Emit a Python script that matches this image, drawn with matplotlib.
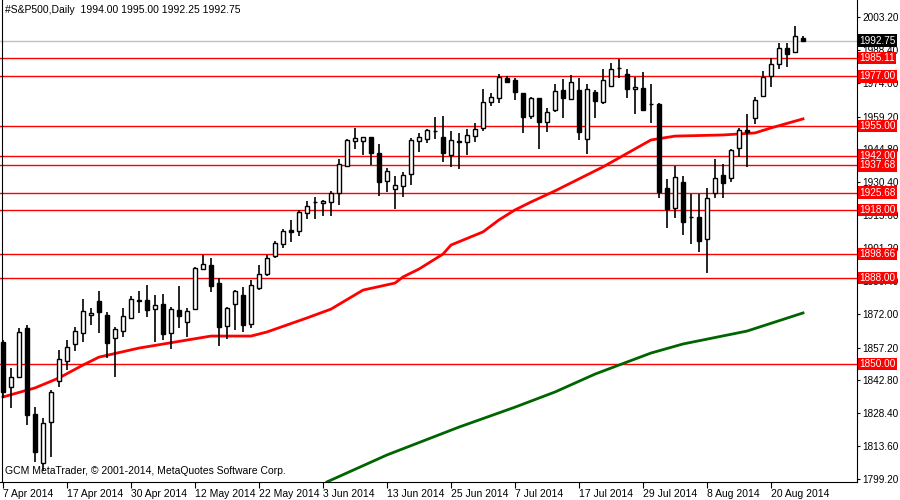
import matplotlib.pyplot as plt

# daily OHLC (bar index 0 = first visible bar)
opens = [1859.7, 1839.8, 1844.2, 1865.9, 1827.9, 1806.2, 1824.3, 1842.4, 1851.3, 1858.8,
         1863.6, 1871.6, 1877.8, 1871.6, 1861.4, 1864.5, 1870.3, 1877.8, 1878.2, 1874.2,
         1876.5, 1863.6, 1873.8, 1868.5, 1874.2, 1891.9, 1893.7, 1885.7, 1866.7, 1876.5,
         1880.4, 1867.6, 1883.5, 1889.7, 1897.7, 1903.0, 1909.1, 1908.7, 1916.6, 1921.5,
         1921.1, 1921.5, 1925.5, 1937.4, 1948.4, 1948.4, 1950.2, 1943.1, 1930.8, 1927.2,
         1928.6, 1933.9, 1948.4, 1949.3, 1952.9, 1950.2, 1942.3, 1948.0, 1948.0, 1950.6,
         1954.2, 1965.7, 1967.4, 1976.3, 1975.4, 1969.6, 1959.5, 1967.4, 1956.8, 1962.1,
         1971.0, 1967.0, 1971.0, 1949.3, 1970.1, 1965.7, 1972.7, 1980.7, 1978.0, 1971.4,
         1971.8, 1964.8, 1964.8, 1927.7, 1918.9, 1930.3, 1914.9, 1914.9, 1905.2, 1925.5,
         1933.4, 1932.1, 1945.3, 1953.3, 1958.6, 1968.3, 1977.1, 1982.4, 1989.5, 1987.8,
         1994.0]
highs = [1860.6, 1848.2, 1865.9, 1867.2, 1831.0, 1826.1, 1838.5, 1856.1, 1860.6, 1866.3,
         1878.7, 1874.7, 1882.2, 1872.9, 1866.3, 1874.7, 1880.0, 1882.2, 1884.8, 1880.4,
         1880.9, 1875.1, 1884.4, 1874.7, 1892.8, 1898.1, 1896.8, 1888.0, 1875.1, 1882.6,
         1884.0, 1887.0, 1893.7, 1898.1, 1904.3, 1909.6, 1913.6, 1918.0, 1921.9, 1923.7,
         1922.4, 1926.4, 1940.5, 1949.3, 1954.2, 1950.2, 1950.2, 1947.1, 1936.5, 1933.0,
         1934.7, 1949.8, 1952.0, 1953.7, 1959.0, 1959.5, 1952.9, 1952.0, 1953.7, 1956.4,
         1971.4, 1969.6, 1978.0, 1977.2, 1976.3, 1969.6, 1967.9, 1967.4, 1963.0, 1973.6,
         1975.8, 1977.6, 1976.3, 1973.6, 1971.0, 1980.2, 1982.9, 1984.6, 1980.2, 1976.7,
         1978.9, 1973.6, 1965.2, 1931.7, 1937.4, 1933.0, 1925.0, 1925.0, 1927.7, 1940.5,
         1938.3, 1944.9, 1954.2, 1960.4, 1967.9, 1979.3, 1985.1, 1991.7, 1991.7, 1999.2,
         1995.0]
lows = [1834.9, 1830.5, 1843.8, 1823.0, 1806.7, 1802.7, 1808.9, 1839.8, 1847.3, 1855.7,
        1859.7, 1867.2, 1863.6, 1852.6, 1844.2, 1862.0, 1869.8, 1872.5, 1870.7, 1859.7,
        1860.6, 1856.6, 1865.9, 1861.9, 1873.8, 1891.5, 1881.8, 1857.9, 1861.0, 1865.0,
        1864.1, 1865.9, 1882.6, 1888.8, 1896.8, 1901.2, 1903.8, 1906.5, 1914.0, 1914.0,
        1915.3, 1915.3, 1920.2, 1936.9, 1944.9, 1942.3, 1937.8, 1924.2, 1925.9, 1918.4,
        1923.7, 1929.0, 1943.6, 1947.6, 1949.3, 1939.2, 1936.9, 1936.1, 1942.3, 1948.0,
        1952.9, 1963.9, 1965.2, 1974.0, 1966.5, 1952.0, 1958.2, 1944.9, 1952.4, 1961.2,
        1958.6, 1966.5, 1948.9, 1942.7, 1958.6, 1964.8, 1972.7, 1976.3, 1967.4, 1960.4,
        1961.7, 1956.4, 1923.3, 1910.0, 1914.4, 1906.9, 1903.0, 1899.4, 1890.1, 1923.3,
        1923.3, 1930.3, 1941.4, 1936.9, 1955.9, 1967.9, 1972.3, 1980.2, 1981.1, 1987.3,
        1992.25]
closes = [1837.6, 1844.2, 1864.1, 1827.4, 1811.1, 1823.9, 1837.6, 1852.2, 1857.5, 1864.5,
          1873.4, 1872.5, 1872.9, 1859.2, 1865.4, 1871.2, 1878.7, 1878.0, 1873.8, 1876.0,
          1863.2, 1874.2, 1871.2, 1873.4, 1892.4, 1894.1, 1884.4, 1866.3, 1874.7, 1882.2,
          1867.2, 1884.8, 1889.7, 1896.8, 1903.4, 1908.7, 1908.3, 1917.1, 1919.7, 1921.3,
          1921.9, 1925.5, 1938.3, 1948.9, 1949.8, 1950.2, 1943.1, 1930.3, 1935.2, 1929.0,
          1933.4, 1948.9, 1950.2, 1953.3, 1952.7, 1943.1, 1948.9, 1948.2, 1951.1, 1953.7,
          1965.7, 1967.9, 1976.7, 1974.5, 1970.1, 1959.0, 1967.4, 1956.8, 1961.2, 1970.5,
          1967.4, 1974.5, 1952.4, 1971.4, 1966.1, 1975.4, 1980.2, 1980.5, 1971.4, 1972.3,
          1962.1, 1964.6, 1925.9, 1918.4, 1932.5, 1912.7, 1914.7, 1904.3, 1923.3, 1932.1,
          1929.9, 1944.5, 1953.3, 1952.4, 1966.5, 1976.7, 1982.4, 1989.5, 1986.9, 1994.8,
          1992.75]

# moving averages (red fast, green slow), read at a few bars
ma_red_idx = [0, 4, 7, 10, 12, 17, 26, 31, 33, 38, 41, 45, 49, 50, 52, 55, 56, 60, 62, 64,
              66, 69, 75, 81, 84, 90, 94, 96, 100]
ma_red = [1835.4, 1839.4, 1843.8, 1849.5, 1853.0, 1857.0, 1862.3, 1862.3, 1864.1, 1870.3,
          1874.2, 1882.6, 1885.7, 1888.4, 1891.9, 1898.5, 1902.5, 1908.3, 1913.6, 1918.0,
          1921.5, 1926.4, 1937.0, 1948.9, 1950.6, 1951.1, 1952.0, 1954.2, 1958.2]
ma_green_idx = [40.5, 48, 57, 64, 69, 74, 77, 81, 85, 93, 100]
ma_green = [1797.9, 1809.8, 1822.1, 1830.9, 1837.6, 1845.5, 1849.5, 1854.8, 1858.8, 1864.5, 1872.5]

levels = [1985.11, 1977.00, 1955.00, 1942.00, 1937.68, 1925.68, 1918.00, 1898.66, 1888.00, 1850.00]
price_ticks = [2003.20, 1988.40, 1974.00, 1959.20, 1944.80, 1930.40, 1915.60, 1901.20,
               1886.40, 1872.00, 1857.20, 1842.80, 1828.40, 1813.60, 1799.20]
date_labels = ['7 Apr 2014', '17 Apr 2014', '30 Apr 2014', '12 May 2014', '22 May 2014',
               '3 Jun 2014', '13 Jun 2014', '25 Jun 2014', '7 Jul 2014', '17 Jul 2014',
               '29 Jul 2014', '8 Aug 2014', '20 Aug 2014']
last_price = 1992.75

plt.rcParams['font.family'] = 'Liberation Sans'
fig = plt.figure(figsize=(9, 5), dpi=100)
ax = fig.add_axes([0.0, 0.036, 857 / 900, 0.964])

ax.set_xlim(-0.375, 106.75)
ax.set_ylim(1797.85, 2010.7)

for lv in levels:
    ax.axhline(lv, color='#ff0000', lw=1.0, zorder=1)
ax.axhline(last_price, color='#c0c0c0', lw=1.0, zorder=1)

ax.plot(ma_red_idx, ma_red, color='#ff0000', lw=2.0, zorder=2)
ax.plot(ma_green_idx, ma_green, color='#006400', lw=2.0, zorder=2)

for i in range(len(opens)):
    o, h, l, c = opens[i], highs[i], lows[i], closes[i]
    ax.vlines(i, l, h, color='black', lw=1.2, zorder=3)
    fc = 'white' if c >= o else 'black'
    ax.bar(i, max(abs(c - o), 0.3), bottom=min(o, c), width=0.62,
           color=fc, edgecolor='black', lw=1.0, zorder=4)

ax.text(0.006, 0.99, '#S&P500,Daily  1994.00 1995.00 1992.25 1992.75',
        transform=ax.transAxes, fontsize=7.5, va='top', ha='left')
ax.text(0.006, 0.012, 'GCM MetaTrader, \u00a9 2001-2014, MetaQuotes Software Corp.',
        transform=ax.transAxes, fontsize=7.5, va='bottom', ha='left')

ax.spines['top'].set_visible(False)
ax.spines['left'].set_position(('data', -0.1))

ax.yaxis.tick_right()
ax.set_yticks(price_ticks)
ax.set_yticklabels(['%.2f' % p for p in price_ticks], fontsize=7.2)
ax.tick_params(axis='y', direction='out', length=2, pad=2)

ax.set_xticks(range(0, 8 * len(date_labels), 8))
ax.set_xticklabels(date_labels, fontsize=7.5, ha='left')
ax.tick_params(axis='x', direction='out', length=4, pad=1)

ytr = ax.get_yaxis_transform()
for lv in levels:
    ax.text(1.003, lv, '%.2f' % lv, transform=ytr, fontsize=7.2, color='white',
            va='center', ha='left', clip_on=False, zorder=6,
            bbox=dict(boxstyle='square,pad=0.12', fc='#ff0000', ec='none'))
ax.text(1.003, last_price, '%.2f' % last_price, transform=ytr, fontsize=7.2, color='white',
        va='center', ha='left', clip_on=False, zorder=6,
        bbox=dict(boxstyle='square,pad=0.12', fc='black', ec='none'))

fig.savefig('out.png', dpi=100)
